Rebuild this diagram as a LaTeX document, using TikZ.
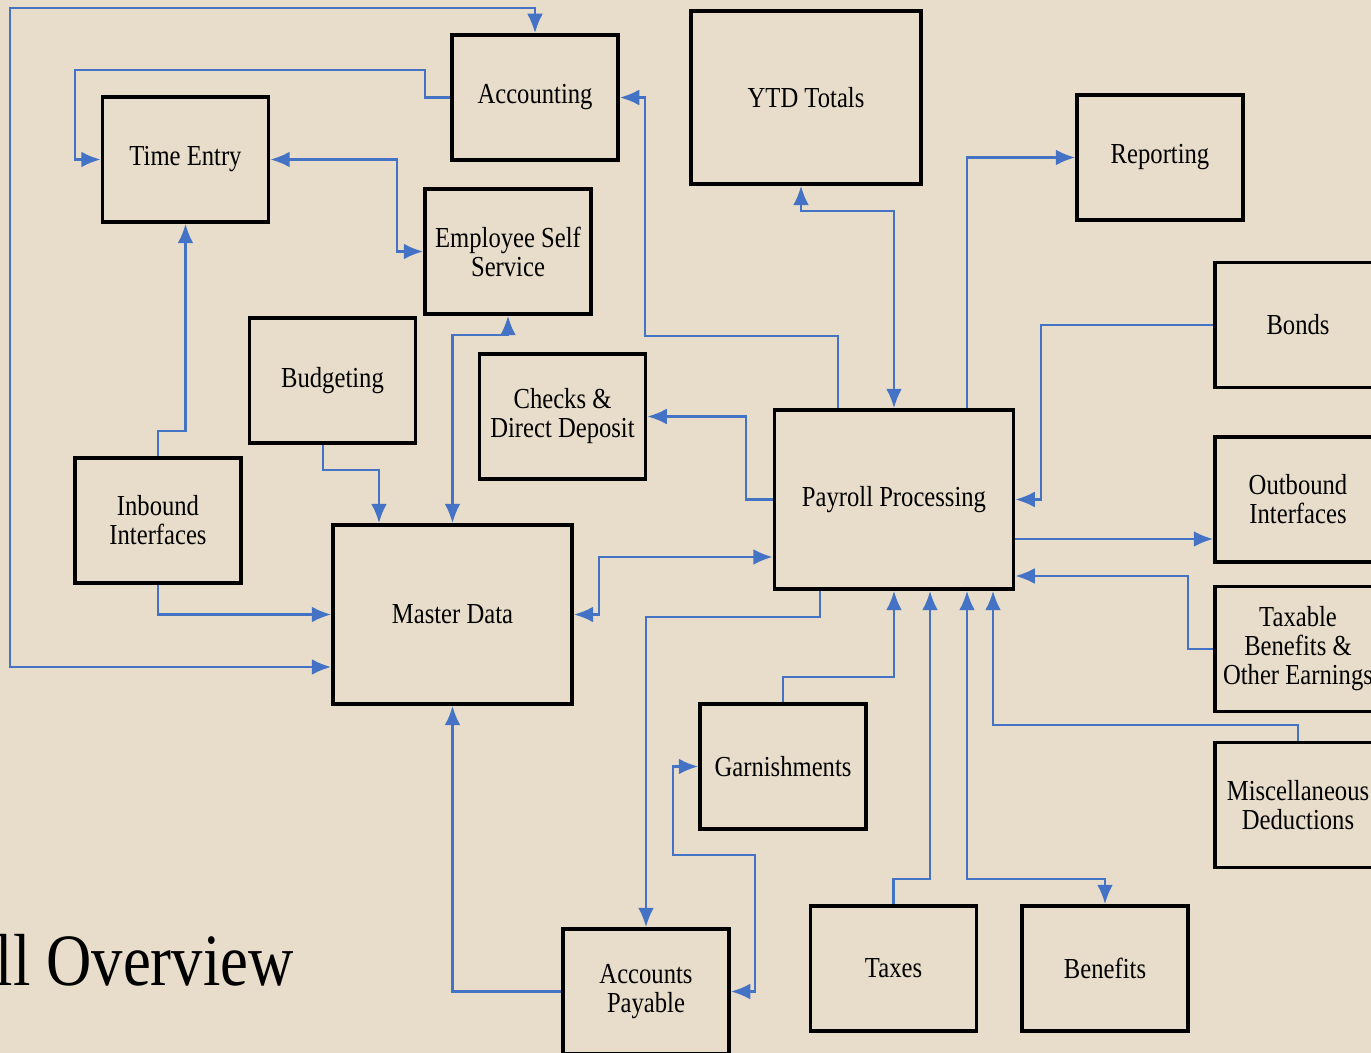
\documentclass[tikz,border=0pt]{standalone}
\usepackage{fontspec}
\setmainfont[FakeStretch=0.85]{Liberation Serif}
\usetikzlibrary{arrows.meta}
\definecolor{paper}{HTML}{E8DDCB}
\definecolor{linkblue}{HTML}{4472C4}
\begin{document}
\begin{tikzpicture}[x=0.02cm,y=-0.02cm,
  box/.style={draw,line width=2.2pt,minimum width=3.32cm,minimum height=2.5cm,
    inner sep=0pt,align=center,font=\fontsize{16.5}{16.5}\selectfont},
  bigbox/.style={box,minimum width=4.78cm,minimum height=3.58cm},
  link/.style={draw=linkblue,line width=1.3pt},
  onearrow/.style={link,-{Latex[length=11pt,width=9pt]}},
  twoarrow/.style={link,{Latex[length=11pt,width=9pt]}-{Latex[length=11pt,width=9pt]}}]
\useasboundingbox (0,0) rectangle (1371,1053);
\clip (0,0) rectangle (1371,1053);
\fill [paper] (0,0) rectangle (1371,1053);

\node [box] (acc) at (535,97.5) {Accounting};
\node [box,minimum width=4.6cm,minimum height=3.46cm] (ytd) at (806,97.5) {YTD Totals};
\node [box] (rep) at (1160,157.5) {Reporting};
\node [box] (time) at (185.5,159.5) {Time Entry};
\node [box] (ess) at (508,251.5) {Employee Self\\Service};
\node [box] (budg) at (332.5,380.5) {Budgeting};
\node [box] (chk) at (562.5,416.5) {Checks \&\\Direct Deposit};
\node [box] (bonds) at (1298,325) {Bonds};
\node [bigbox] (pay) at (894,499.5) {Payroll Processing};
\node [box] (outb) at (1298,499.5) {Outbound\\Interfaces};
\node [box] (inb) at (158,520.5) {Inbound\\Interfaces};
\node [bigbox] (master) at (452.5,614.5) {Master Data};
\node [box] (taxb) at (1298,649) {Taxable\\Benefits \&\\Other Earnings};
\node [box] (garn) at (783,766.5) {Garnishments};
\node [box] (misc) at (1298,805) {Miscellaneous\\Deductions};
\node [box] (ap) at (646,991.5) {Accounts\\Payable};
\node [box] (taxes) at (893.5,968.5) {Taxes};
\node [box] (ben) at (1105,968.5) {Benefits};

\node [anchor=base east,font=\fontsize{42}{42}\selectfont] (title) at (300,985) {ll Overview};

\draw [twoarrow] (master.west |- 0,667) -| (10,8) -| (acc.north);
\draw [onearrow] (acc.west) -| (425,70) -| (75,159.5) -- (time.west);
\draw [twoarrow] (time.east) -| (397,251.5) -- (ess.west);
\draw [onearrow] (inb.north) |- (time.south |- 0,431) -- (time.south);
\draw [onearrow] (inb.south) |- (master.west);
\draw [onearrow] (budg.south -| 323,0) |- (379,470) -- (master.north -| 379,0);
\draw [twoarrow] (ess.south) |- (master.north |- 0,335) -- (master.north);
\draw [onearrow] (pay.north -| 838,0) |- (645,336) |- (acc.east);
\draw [twoarrow] (ytd.south -| 801,0) |- (pay.north |- 0,211) -- (pay.north);
\draw [onearrow] (pay.north -| 967,0) |- (rep.west);
\draw [onearrow] (pay.west) -| (chk.east -| 746,0) -- (chk.east);
\draw [twoarrow] (master.east) -| (599,557) -- (pay.west |- 0,557);
\draw [onearrow] (bonds.west) -| (pay.east -| 1041,0) -- (pay.east);
\draw [onearrow] (pay.east |- 0,539) -- (outb.west |- 0,539);
\draw [onearrow] (taxb.west) -| (1188,576) -- (pay.east |- 0,576);
\draw [onearrow] (pay.south -| 820,0) |- (ap.north |- 0,617) -- (ap.north);
\draw [onearrow] (garn.north) |- (pay.south |- 0,677) -- (pay.south);
\draw [onearrow] (taxes.north) |- (930,879) -- (pay.south -| 930,0);
\draw [twoarrow] (pay.south -| 967,0) |- (ben.north |- 0,879) -- (ben.north);
\draw [onearrow] (misc.north) |- (993,725) -- (pay.south -| 993,0);
\draw [onearrow] (ap.west) -| (master.south);
\draw [twoarrow] (garn.west) -| (673,855) -| (ap.east -| 755,0) -- (ap.east);
\end{tikzpicture}
\end{document}
